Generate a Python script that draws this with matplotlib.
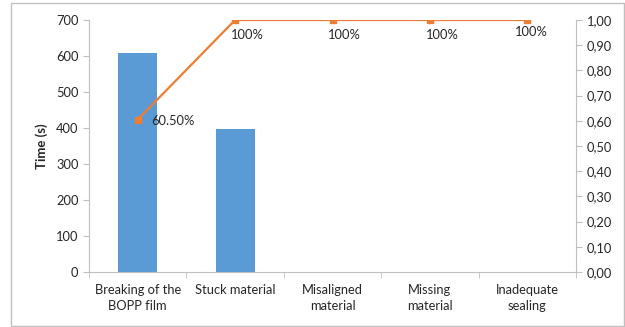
import numpy as np
import matplotlib.pyplot as plt
from matplotlib.patches import Rectangle
from matplotlib.ticker import FuncFormatter

plt.rcParams['font.family'] = ['Lato', 'DejaVu Sans']

# Data
categories = ['Breaking of the\nBOPP film', 'Stuck material', 'Misaligned\nmaterial',
              'Missing\nmaterial', 'Inadequate\nsealing']
times = [608, 396, 0, 0, 0]
cumulative = [0.605, 1.0, 1.0, 1.0, 1.0]
point_labels = ['60.50%', '100%', '100%', '100%', '100%']

bar_color = '#5b9bd5'
line_color = '#ed7d31'
spine_color = '#bfbfbf'
text_color = '#262626'

fig = plt.figure(figsize=(6.25, 3.27), dpi=100)
ax = fig.add_axes([89 / 625, 1 - 272 / 327, (576 - 89) / 625, (272 - 20) / 327])

x = np.arange(len(categories))
ax.bar(x, times, width=0.4, color=bar_color, zorder=2)
ax.set_xlim(-0.5, len(categories) - 0.5)
ax.set_ylim(0, 700)
ax.set_yticks(np.arange(0, 701, 100))
ax.set_xticks(x)
ax.set_xticklabels(categories, fontsize=9.3, color=text_color, linespacing=1.3)
ax.set_xticks(np.arange(-0.5, len(categories), 1), minor=True)
ax.tick_params(axis='x', which='major', length=0, pad=9)
ax.tick_params(axis='x', which='minor', length=4, color=spine_color)
ax.tick_params(axis='y', length=4, color=spine_color, labelsize=9.3, labelcolor=text_color)
ax.set_ylabel('Time (s)', fontsize=9.5, fontweight='bold', color=text_color, labelpad=6)

ax2 = ax.twinx()
ax2.plot(x, cumulative, color=line_color, lw=1.6, marker='s', markersize=4, zorder=3)
ax2.set_ylim(0, 1.0)
ax2.set_yticks(np.arange(0, 1.01, 0.1))
ax2.yaxis.set_major_formatter(FuncFormatter(lambda v, p: f'{v:.2f}'.replace('.', ',')))
ax2.tick_params(axis='y', length=4, color=spine_color, labelsize=9.3, labelcolor=text_color)

# point labels
offsets = [(10, -1), (-3, -11), (-3, -11), (-3, -11), (-9, -9)]
for xi, yi, lab, off in zip(x, cumulative, point_labels, offsets):
    ax2.annotate(lab, (xi, yi), xytext=off, textcoords='offset points',
                 fontsize=9.3, color=text_color, ha='left', va='center')

for a in (ax, ax2):
    a.spines['top'].set_visible(False)
    for s in ('left', 'right', 'bottom'):
        a.spines[s].set_color(spine_color)
ax.spines['right'].set_visible(False)
ax2.spines['left'].set_visible(False)
ax2.spines['bottom'].set_visible(False)

# outer chart border
fig.patches.append(Rectangle((11 / 625, 0.002), 1 - 11 / 625 - 0.002, 1 - 3 / 327 - 0.002,
                             transform=fig.transFigure, fill=False,
                             edgecolor='#bfbfbf', lw=1))

fig.savefig('out.png', dpi=100)
